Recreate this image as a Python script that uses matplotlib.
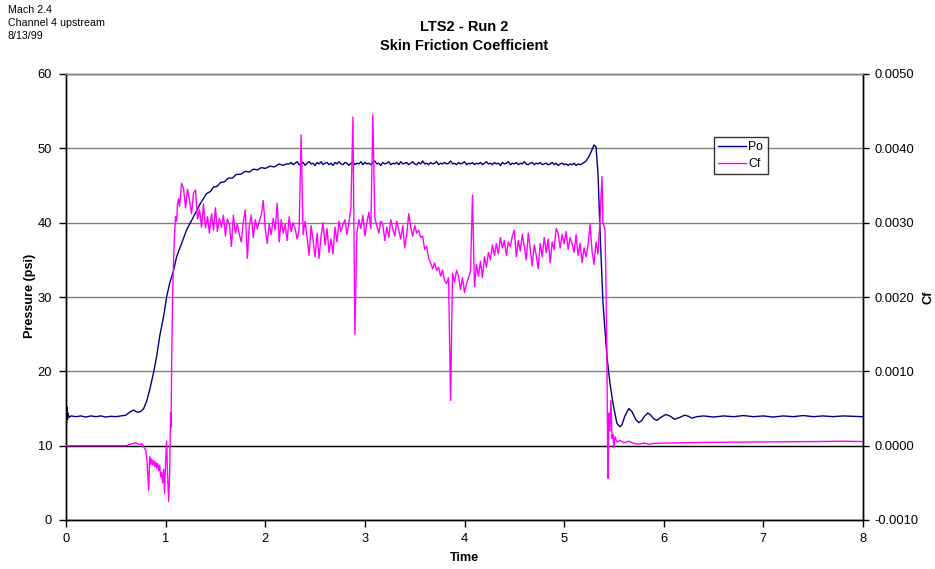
import numpy as np
import matplotlib
matplotlib.use("Agg")
import matplotlib.pyplot as plt

plt.rcParams['font.family'] = ['Liberation Sans', 'DejaVu Sans']

# ---------------- data ----------------
# Po (psi): explicit points for start-up, then a uniform-sampled plateau, then shutdown
po_early_t = [0.0, 0.005, 0.01, 0.015, 0.02, 0.03, 0.05, 0.1, 0.15, 0.2, 0.25, 0.3, 0.35, 0.4,
              0.45, 0.5, 0.55, 0.6, 0.65, 0.68, 0.70, 0.72, 0.75, 0.78, 0.81, 0.84, 0.86, 0.88,
              0.91, 0.94, 0.98, 1.01, 1.04, 1.08, 1.11, 1.16, 1.21, 1.28, 1.35, 1.41, 1.45,
              1.48, 1.52, 1.55, 1.59, 1.63, 1.67, 1.71, 1.75, 1.80, 1.84, 1.88, 1.92, 1.96,
              2.00, 2.05, 2.09, 2.14, 2.18, 2.21]
po_early_v = [14.8, 13.0, 15.2, 13.5, 14.4, 13.8, 14.0, 13.9, 14.0, 13.85, 14.0, 13.9, 14.0, 13.85,
              13.95, 13.9, 14.0, 14.1, 14.6, 14.8, 14.6, 14.5, 14.6, 15.0, 16.0, 17.5, 18.7, 19.9,
              22.0, 24.7, 27.4, 30.0, 31.8, 33.6, 35.4, 37.2, 39.0, 40.8, 42.6, 43.9, 44.2,
              44.8, 44.9, 45.4, 45.5, 46.0, 46.0, 46.5, 46.5, 46.9, 46.8, 47.2, 47.1, 47.4,
              47.3, 47.6, 47.5, 47.9, 47.7, 47.9]
po_plateau_start = 2.24
po_plateau_step = 0.02
po_plateau_v = [47.9, 48.1, 47.8, 48.0, 48.2, 47.8, 47.9, 48.1, 47.7, 48.0,
                48.2, 47.9, 48.0, 47.7, 48.1, 47.9, 48.2, 47.8, 48.0, 48.1,
                47.8, 48.0, 47.7, 48.1, 47.9, 48.2, 47.9, 47.8, 48.1, 48.0,
                47.7, 48.0, 48.2, 47.8, 48.0, 47.9, 48.2, 47.8, 48.1, 47.9,
                48.0, 47.8, 48.1, 48.3, 47.9, 48.0, 47.7, 48.1, 47.9, 48.0,
                48.2, 47.8, 48.0, 47.9, 48.1, 47.8, 48.2, 47.9, 48.0, 48.1,
                47.8, 48.0, 48.2, 47.9, 47.8, 48.1, 47.9, 48.3, 47.9, 48.0,
                47.8, 48.1, 47.9, 48.0, 48.2, 47.8, 48.0, 47.9, 48.1, 47.9,
                48.0, 48.3, 47.9, 48.0, 47.8, 48.1, 47.9, 48.0, 48.2, 47.8,
                48.0, 47.9, 48.1, 47.8, 48.0, 47.9, 48.1, 47.8, 48.0, 48.2,
                47.9, 48.0, 47.8, 48.1, 47.9, 48.0, 47.7, 48.1, 47.9, 48.0,
                48.2, 47.8, 48.0, 47.9, 48.1, 47.8, 48.0, 47.9, 48.2, 47.9,
                47.8, 48.0, 48.1, 47.8, 48.0, 47.9, 48.1, 47.8, 47.9, 48.0,
                47.8, 47.9, 48.1, 47.8, 48.0, 47.7, 47.9, 48.0, 47.8, 47.9,
                47.7, 47.9, 47.8, 48.0, 47.7, 47.9, 47.8]
po_late_t = [5.19, 5.22, 5.24, 5.26, 5.28, 5.30, 5.32, 5.34, 5.36, 5.38, 5.39, 5.41, 5.43, 5.46,
             5.49, 5.53, 5.56, 5.58, 5.61, 5.65, 5.68, 5.72, 5.75, 5.78, 5.81, 5.84, 5.87, 5.90,
             5.93, 5.97, 6.02, 6.06, 6.11, 6.16, 6.21, 6.25, 6.28, 6.33, 6.4, 6.5, 6.6, 6.7,
             6.8, 6.9, 7.0, 7.1, 7.2, 7.3, 7.4, 7.5, 7.6, 7.7, 7.8, 7.9, 8.0]
po_late_v = [48.0, 48.3, 48.7, 49.2, 49.8, 50.45, 50.2, 46.6, 39.0, 32.3, 29.2, 25.6, 22.0, 18.4,
             15.7, 13.0, 12.55, 12.8, 14.0, 15.0, 14.6, 13.5, 13.1, 13.4, 14.0, 14.4, 14.1, 13.6,
             13.4, 13.8, 14.2, 14.0, 13.55, 13.8, 14.1, 13.95, 13.7, 13.9, 14.0, 13.85, 14.0, 13.9,
             14.05, 13.9, 14.0, 13.85, 14.0, 13.9, 14.05, 13.9, 14.0, 13.9, 14.0, 13.95, 13.9]

# Cf, in units of 1e-4
cf_early_t = [0.0, 0.6, 0.65, 0.70, 0.74, 0.76, 0.78, 0.80, 0.81, 0.83, 0.84, 0.85, 0.86, 0.87,
              0.88, 0.89, 0.90, 0.91, 0.92, 0.93, 0.94, 0.95, 0.96, 0.97, 0.98, 0.99, 1.00, 1.01,
              1.02, 1.03, 1.04, 1.05, 1.055, 1.06, 1.07, 1.08, 1.09, 1.10, 1.11, 1.12, 1.13]
cf_early_v = [0.0, 0.0, 0.2, 0.4, 0.1, 0.3, -0.2, -0.6, -1.5, -6.0, -1.5, -2.5, -1.8, -2.6,
              -2.0, -2.8, -2.2, -3.0, -2.4, -3.4, -2.6, -4.2, -3.6, -5.0, -3.2, -6.4, -2.0, 0.6,
              -4.0, -7.5, -4.0, 4.4, 2.5, 10.6, 20.0, 25.0, 28.6, 30.8, 30.2, 32.6, 33.2]
cf_mid_start = 1.14
cf_mid_step = 0.02
cf_mid_v = [32.2, 35.3, 34.6, 32.0, 34.5, 33.0, 31.2, 34.0, 34.4, 30.5,
            31.8, 29.4, 32.5, 29.3, 30.8, 28.6, 31.2, 29.0, 32.0, 28.8,
            30.6, 29.4, 31.0, 28.2, 30.5, 29.8, 26.8, 31.0, 28.6, 29.8,
            28.4, 27.4, 30.2, 31.7, 25.2, 29.6, 31.0, 28.0, 30.4, 29.2,
            30.2, 31.0, 33.0, 29.2, 27.2, 29.8, 28.4, 30.6, 29.0, 32.6,
            27.4, 30.4, 28.6, 29.8, 27.6, 30.8, 28.8, 30.0, 29.2, 27.8,
            29.0, 41.8, 28.4, 30.2, 28.0, 25.6, 29.6, 27.6, 25.4, 28.6,
            25.2, 28.2, 30.0, 27.0, 29.2, 26.0, 27.8, 25.8, 29.4, 27.4,
            30.2, 28.8, 29.8, 30.4, 28.4, 30.0, 32.0, 44.2, 15.0, 28.6,
            30.4, 29.2, 31.0, 28.2, 30.0, 31.4, 29.2, 44.5, 30.6, 29.6,
            28.6, 30.2, 29.8, 27.6, 29.4, 28.0, 30.4, 29.2, 28.2, 30.2,
            29.0, 27.8, 29.6, 26.6, 28.4, 31.2, 29.4, 28.2, 29.6, 28.6,
            29.0, 28.0, 28.2, 26.4, 26.8, 25.2, 24.6, 23.8, 24.6, 23.6,
            24.0, 22.8, 23.6, 22.2, 21.8, 22.6, 6.1, 23.2, 22.0, 23.6,
            22.8, 21.0, 22.6, 20.6, 21.8, 22.6, 23.4, 33.7, 21.4, 24.4,
            22.8, 24.8, 22.6, 25.4, 24.0, 26.0, 25.0, 27.0, 25.6, 27.2,
            25.8, 28.0, 26.6, 27.6, 25.6, 27.4, 26.8, 28.2, 29.0, 25.4,
            27.6, 26.2, 28.4, 26.8, 25.0, 28.6, 26.4, 24.2, 27.0, 25.6,
            23.8, 27.2, 25.4, 28.0, 26.0, 27.8, 24.6, 27.4, 26.4, 29.2,
            28.6, 26.6, 28.4, 27.2, 28.8, 26.4, 28.0, 27.2, 26.0, 28.4,
            25.6, 27.2, 24.6, 26.6, 25.4, 27.0, 29.8, 26.2, 24.4, 27.4,
            25.8, 30.4]
cf_late_t = [5.38, 5.39, 5.41, 5.42, 5.43, 5.435, 5.44, 5.445, 5.45, 5.46, 5.47, 5.48, 5.49,
             5.50, 5.51, 5.53, 5.56, 5.60, 5.65, 5.70, 5.75, 5.80, 5.85, 5.90, 6.0, 6.2, 6.5,
             7.0, 7.5, 7.8, 8.0]
cf_late_v = [36.2, 30.0, 29.0, 22.0, 11.1, 2.1, -4.4, -1.0, 4.4, 2.0, 6.1, 1.0, 1.5,
             -0.3, 1.2, 0.5, 0.7, 0.4, 0.6, 0.3, 0.2, 0.35, 0.2, 0.3, 0.35, 0.4, 0.45,
             0.5, 0.55, 0.6, 0.55]
cf_scale = 1e-4

cf_ticks = [-0.001, 0.0, 0.001, 0.002, 0.003, 0.004, 0.005]

# ---------------- assemble ----------------
po_t = np.concatenate([po_early_t,
                       po_plateau_start + po_plateau_step * np.arange(len(po_plateau_v)),
                       po_late_t])
po_v = np.concatenate([po_early_v, po_plateau_v, po_late_v])
cf_t = np.concatenate([cf_early_t,
                       cf_mid_start + cf_mid_step * np.arange(len(cf_mid_v)),
                       cf_late_t])
cf_v = np.concatenate([cf_early_v, cf_mid_v, cf_late_v]) * cf_scale

# ---------------- plot ----------------
fig = plt.figure(figsize=(9.35, 5.69), dpi=100)
ax = fig.add_axes([66/935, 1-520/569, (863-66)/935, (520-74)/569])
ax2 = ax.twinx()

ax.set_xlim(0, 8)
ax.set_ylim(0, 60)
ax.set_xticks(range(0, 9))
ax.set_yticks(range(0, 61, 10))
ax2.set_ylim(-0.001, 0.005)
ax2.set_yticks(cf_ticks)
ax2.set_yticklabels([f"{v:.4f}" for v in cf_ticks])

ax.yaxis.grid(True, color='#808080', linewidth=1.0)
ax.set_axisbelow(True)
ax.axhline(10, color='black', linewidth=0.9, zorder=1)

lp, = ax.plot(po_t, po_v, color='#000080', linewidth=1.0, label='Po', zorder=3)
lc, = ax2.plot(cf_t, cf_v, color='#FF00FF', linewidth=1.0, label='Cf', zorder=3)

for a in (ax, ax2):
    a.spines['top'].set_color('#808080')
    a.spines['top'].set_linewidth(1.0)
    for s in ('left', 'right', 'bottom'):
        a.spines[s].set_color('black')
        a.spines[s].set_linewidth(1.0)
    a.tick_params(direction='out', length=5, width=1.0, labelsize=9.3, colors='black')

ax.tick_params(axis='y', pad=5)
ax.tick_params(axis='x', pad=4)
ax2.tick_params(axis='y', length=4, pad=4)

leg = ax2.legend(handles=[lp, lc], loc='upper left', bbox_to_anchor=(0.8125, 0.859),
                 frameon=True, fancybox=False, fontsize=8.8, handlelength=2.3,
                 borderpad=0.35, labelspacing=0.4, handletextpad=0.2, borderaxespad=0)
leg.get_frame().set_edgecolor('black')
leg.get_frame().set_linewidth(1.0)

fig.text(464/935, 1-27/569, 'LTS2 - Run 2', ha='center', va='center',
         fontsize=10.5, fontweight='bold')
fig.text(464/935, 1-46/569, 'Skin Friction Coefficient', ha='center', va='center',
         fontsize=10.5, fontweight='bold')
fig.text(8/935, 1-5/569, 'Mach 2.4\nChannel 4 upstream\n8/13/99', ha='left', va='top',
         fontsize=7.7, linespacing=1.38)
fig.text(30/935, 1-296/569, 'Pressure (psi)', ha='center', va='center', rotation=90,
         fontsize=9.1, fontweight='bold')
fig.text(928/935, 1-297/569, 'Cf', ha='center', va='center', rotation=90,
         fontsize=9.1, fontweight='bold')
fig.text(464/935, 1-558/569, 'Time', ha='center', va='center',
         fontsize=9.1, fontweight='bold')

fig.savefig('out.png', dpi=100)
